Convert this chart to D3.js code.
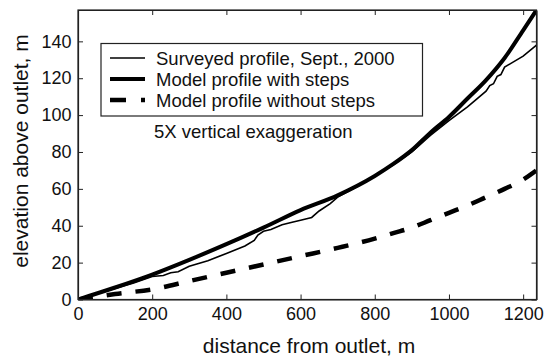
<!DOCTYPE html>
<html><head><meta charset="utf-8">
<script src="https://cdn.jsdelivr.net/npm/d3@7"></script>
<style>body{margin:0;background:#fff}svg{display:block}text{font-family:"Liberation Sans",Arial,Helvetica,sans-serif;fill:#111}</style>
</head><body><svg id="c" width="553" height="359"></svg>
<script>
// distance from outlet (m) and elevation above outlet (m)
const surveyedX = [0,50,100,150,200,230,250,270,300,350,400,450,475,485,500,520,550,580,600,630,650,680,700,750,800,850,900,950,1000,1050,1100,1110,1120,1130,1140,1150,1175,1200,1236];
const surveyedY = [0,3,6,9,12.5,13,14.5,15,18,21,25,29,32,35,37,38,40.5,42,43,44.5,48,52,55.5,61,67,73,80,89,97,104.5,113,116,117,121,122,126,129,132,138];
const modelX = [0,100,200,300,400,500,600,700,800,850,900,950,1000,1050,1100,1150,1200,1236];
const modelStepsY = [0,6.5,13.5,21.5,30,39,48.5,56.5,67,73.5,81,90.5,99,109,119,131,146,157];
const modelNoStepsY = [0,3,5.5,10,14.5,19,23.5,28,33,36,39,43,47,51,55.5,60,65,70];
const xTicks = [0,200,400,600,800,1000,1200];
const yTicks = [0,20,40,60,80,100,120,140];
const legendLabels = ["Surveyed profile, Sept., 2000","Model profile with steps","Model profile without steps"];

const svg = d3.select("#c");
const L=78, R=536.5, T=10, B=299.5;
const x = d3.scaleLinear().domain([0,1236]).range([L,R]);
const y = d3.scaleLinear().domain([0,157]).range([B,T]);

svg.append("defs").append("clipPath").attr("id","clip").append("rect")
  .attr("x",L).attr("y",T).attr("width",R-L).attr("height",B-T);

const g = svg.append("g").attr("clip-path","url(#clip)");
const line = d3.line().x(d=>x(d[0])).y(d=>y(d[1]));
const smooth = d3.line().x(d=>x(d[0])).y(d=>y(d[1])).curve(d3.curveMonotoneX);

g.append("path").datum(modelX.map((v,i)=>[v,modelNoStepsY[i]])).attr("d",smooth)
  .attr("fill","none").attr("stroke","#000").attr("stroke-width",4.5).attr("stroke-dasharray","15,14");
g.append("path").datum(modelX.map((v,i)=>[v,modelStepsY[i]])).attr("d",smooth)
  .attr("fill","none").attr("stroke","#000").attr("stroke-width",4);
g.append("path").datum(surveyedX.map((v,i)=>[v,surveyedY[i]])).attr("d",line)
  .attr("fill","none").attr("stroke","#000").attr("stroke-width",1.6);

// axes (MATLAB-style box with inward ticks)
const fmt = d3.format("d");
const ax = svg.append("g");
ax.append("g").attr("transform",`translate(0,${B})`)
  .call(d3.axisBottom(x).tickValues(xTicks).tickFormat(fmt).tickSizeInner(-5).tickSizeOuter(0).tickPadding(8));
ax.append("g").attr("transform",`translate(0,${T})`)
  .call(d3.axisTop(x).tickValues(xTicks).tickSizeInner(-5).tickSizeOuter(0).tickFormat(""));
ax.append("g").attr("transform",`translate(${L},0)`)
  .call(d3.axisLeft(y).tickValues(yTicks).tickFormat(fmt).tickSizeInner(-5).tickSizeOuter(0).tickPadding(6.5));
ax.append("g").attr("transform",`translate(${R},0)`)
  .call(d3.axisRight(y).tickValues(yTicks).tickSizeInner(-5).tickSizeOuter(0).tickFormat(""));
ax.selectAll(".domain").attr("stroke","#222").attr("stroke-width",1.2);
ax.selectAll(".tick line").attr("stroke","#222");
ax.selectAll(".tick text").attr("font-size",18).attr("fill","#111");
svg.append("rect").attr("x",L).attr("y",T).attr("width",R-L).attr("height",B-T)
  .attr("fill","none").attr("stroke","#222").attr("stroke-width",1.2);

// axis labels
svg.append("text").attr("x",309).attr("y",353).attr("text-anchor","middle").attr("font-size",21)
  .text("distance from outlet, m");
svg.append("text").attr("transform","translate(28,151) rotate(-90)").attr("text-anchor","middle").attr("font-size",21)
  .text("elevation above outlet, m");

// legend
svg.append("rect").attr("x",101).attr("y",43.5).attr("width",321.5).attr("height",72.5)
  .attr("fill","#fff").attr("stroke","#222").attr("stroke-width",1.2);
const ly=[58,79,100];
const styles=[{w:1.6,d:null},{w:4,d:null},{w:4.5,d:"16,15"}];
legendLabels.forEach((t,i)=>{
  svg.append("line").attr("x1",110).attr("x2",145).attr("y1",ly[i]).attr("y2",ly[i])
    .attr("stroke","#000").attr("stroke-width",styles[i].w).attr("stroke-dasharray",styles[i].d);
  svg.append("text").attr("x",156).attr("y",ly[i]+6.5).attr("font-size",18.5).text(t);
});
svg.append("text").attr("x",154).attr("y",138).attr("font-size",18.5).text("5X vertical exaggeration");
</script></body></html>
